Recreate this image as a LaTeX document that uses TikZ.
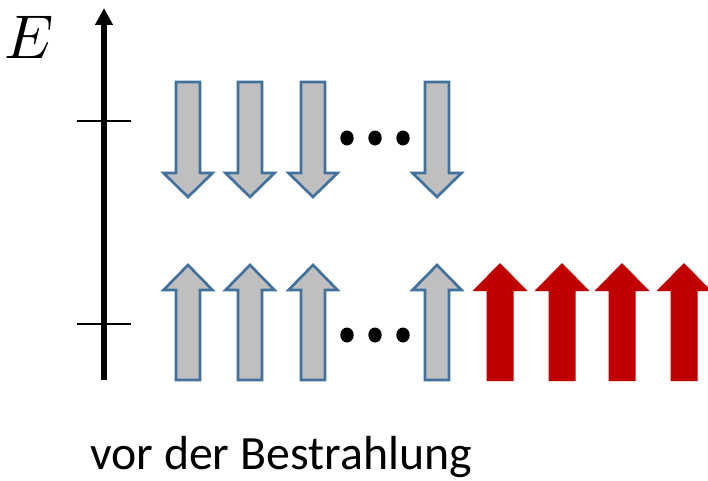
\documentclass[tikz,border=0pt]{standalone}
\usepackage{fontspec}
\setmainfont{Carlito}
\usepackage{amsmath}
\usetikzlibrary{arrows.meta,positioning}
\definecolor{spinblue}{HTML}{41719C}
\definecolor{spingray}{HTML}{BFBFBF}
\definecolor{spinred}{HTML}{C00000}

\begin{document}
\begin{tikzpicture}[x=0.025cm,y=-0.025cm,
  grayspin/.style={draw=spinblue,fill=spingray,line width=1.9pt,line join=miter},
  redspin/.style={fill=spinred},
  spinup/.pic={\draw[grayspin] (-12,115) -- (-12,25) -- (-24.5,25) -- (0,0) -- (24.5,25) -- (12,25) -- (12,115) -- cycle;},
  spindown/.pic={\draw[grayspin] (-12,-115) -- (-12,-24) -- (-24.5,-24) -- (0,0) -- (24.5,-24) -- (12,-24) -- (12,-115) -- cycle;},
  spinred/.pic={\fill[redspin] (-13.5,118) -- (-13.5,28) -- (-27.5,28) -- (0,0) -- (27.5,28) -- (13.5,28) -- (13.5,118) -- cycle;}]
\useasboundingbox (0,0) rectangle (708,480);
% energy axis
\coordinate (axisbot) at (104,380);
\coordinate (axistop) at (104,8);
\draw[line width=4pt,-{Triangle[width=12pt,length=12pt]}] (axisbot) -- (axistop);
\node[scale=4.4] (elabel) at (29,37) {$E$};
\draw[line width=0.8pt] (77,121) -- (131,121);
\draw[line width=0.8pt] (77,324) -- (131,324);
% upper level
\foreach \x in {188,250,313,437}
  \pic at (\x,197) {spindown};
\foreach \x in {347,375,403}
  \fill (\x,138) ellipse [x radius=6.7, y radius=7.5];
% lower level
\foreach \x in {188,250,313,437}
  \pic at (\x,265) {spinup};
\foreach \x in {347,375,403}
  \fill (\x,335) ellipse [x radius=6.7, y radius=7.5];
\foreach \x in {500,562,622,684}
  \pic at (\x,263) {spinred};
\node[font=\fontsize{34}{40}\selectfont,anchor=base] (caption) at (281,469) {vor der Bestrahlung};
\end{tikzpicture}
\end{document}
